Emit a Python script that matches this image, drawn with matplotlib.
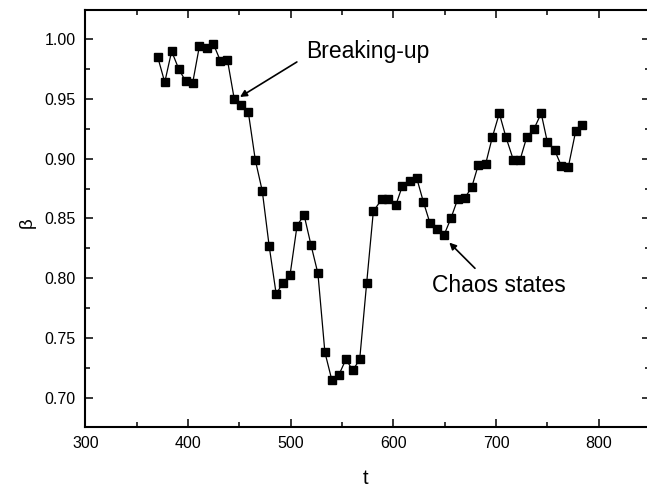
import matplotlib
matplotlib.use("Agg")
import matplotlib.pyplot as plt
from matplotlib.ticker import MultipleLocator

plt.rcParams['font.family'] = ['Liberation Sans', 'DejaVu Sans']

t = [370.5, 377.3, 384.0, 391.0, 397.6, 404.4, 411.0, 418.0, 424.7, 431.5,
     438.3, 445.0, 451.9, 458.7, 465.5, 472.3, 479.0, 485.8, 492.6, 499.4,
     506.2, 513.0, 519.7, 526.5, 533.3, 540.0, 546.9, 553.7, 560.5, 567.2,
     574.0, 580.5, 588.6, 595.0, 602.3, 608.7, 616.2, 622.7, 629.2, 635.7,
     642.5, 649.3, 656.0, 662.6, 669.4, 676.3, 682.8, 690.0, 696.4, 703.2,
     709.7, 716.9, 723.4, 729.9, 737.0, 744.0, 750.0, 757.2, 763.6, 770.4,
     777.6, 784.0]
beta = [0.985, 0.964, 0.990, 0.975, 0.965, 0.963, 0.994, 0.993, 0.996, 0.982,
        0.983, 0.950, 0.945, 0.939, 0.899, 0.873, 0.827, 0.787, 0.796, 0.803,
        0.844, 0.853, 0.828, 0.804, 0.738, 0.715, 0.719, 0.732, 0.723, 0.732,
        0.796, 0.856, 0.866, 0.866, 0.861, 0.877, 0.881, 0.884, 0.864, 0.846,
        0.841, 0.836, 0.850, 0.866, 0.867, 0.876, 0.895, 0.896, 0.918, 0.938,
        0.918, 0.899, 0.899, 0.918, 0.925, 0.938, 0.914, 0.907, 0.894, 0.893,
        0.923, 0.928]

xticks = [300, 400, 500, 600, 700, 800]
yticks = [0.70, 0.75, 0.80, 0.85, 0.90, 0.95, 1.00]

W, H = 647, 487
fig = plt.figure(figsize=(W / 100, H / 100), dpi=100)
left, right, top, bottom = 85.4, 650.0, 10.0, 426.7
ax = fig.add_axes([left / W, 1 - bottom / H, (right - left) / W, (bottom - top) / H])

ax.plot(t, beta, color='black', lw=0.9, marker='s', markersize=6.2,
        markerfacecolor='black', markeredgecolor='black')

ax.set_xlim(300, 850)
ax.set_ylim(0.6757, 1.0245)
ax.set_xticks(xticks)
ax.set_xticklabels([str(v) for v in xticks])
ax.set_yticks(yticks)
ax.set_yticklabels([f"{v:.2f}" for v in yticks])
ax.xaxis.set_minor_locator(MultipleLocator(50))
ax.yaxis.set_minor_locator(MultipleLocator(0.025))

for s in ax.spines.values():
    s.set_linewidth(1.5)
ax.tick_params(which='both', direction='in', top=True, right=True, width=1.1)
ax.tick_params(which='major', length=5.8, labelsize=11.5, pad=7)
ax.tick_params(which='minor', length=3.5)

fig.text(27 / W, 1 - 223 / H, 'β', rotation=90, ha='center', va='center', fontsize=13.5)
fig.text(366 / W, 1 - 478 / H, 't', ha='center', va='center', fontsize=14.5)

ax.text(514.9, 0.9894, 'Breaking-up', fontsize=16.5, ha='left', va='center')
ax.annotate('', xy=(450.6, 0.9517), xytext=(506, 0.981),
            arrowprops=dict(arrowstyle='-|>', color='black', lw=1.2, mutation_scale=10,
                            shrinkA=0, shrinkB=0))
ax.text(637.6, 0.7943, 'Chaos states', fontsize=16.5, ha='left', va='center')
ax.annotate('', xy=(654.5, 0.8298), xytext=(679.5, 0.8083),
            arrowprops=dict(arrowstyle='-|>', color='black', lw=1.2, mutation_scale=10,
                            shrinkA=0, shrinkB=0))

fig.savefig('out.png', dpi=100)
